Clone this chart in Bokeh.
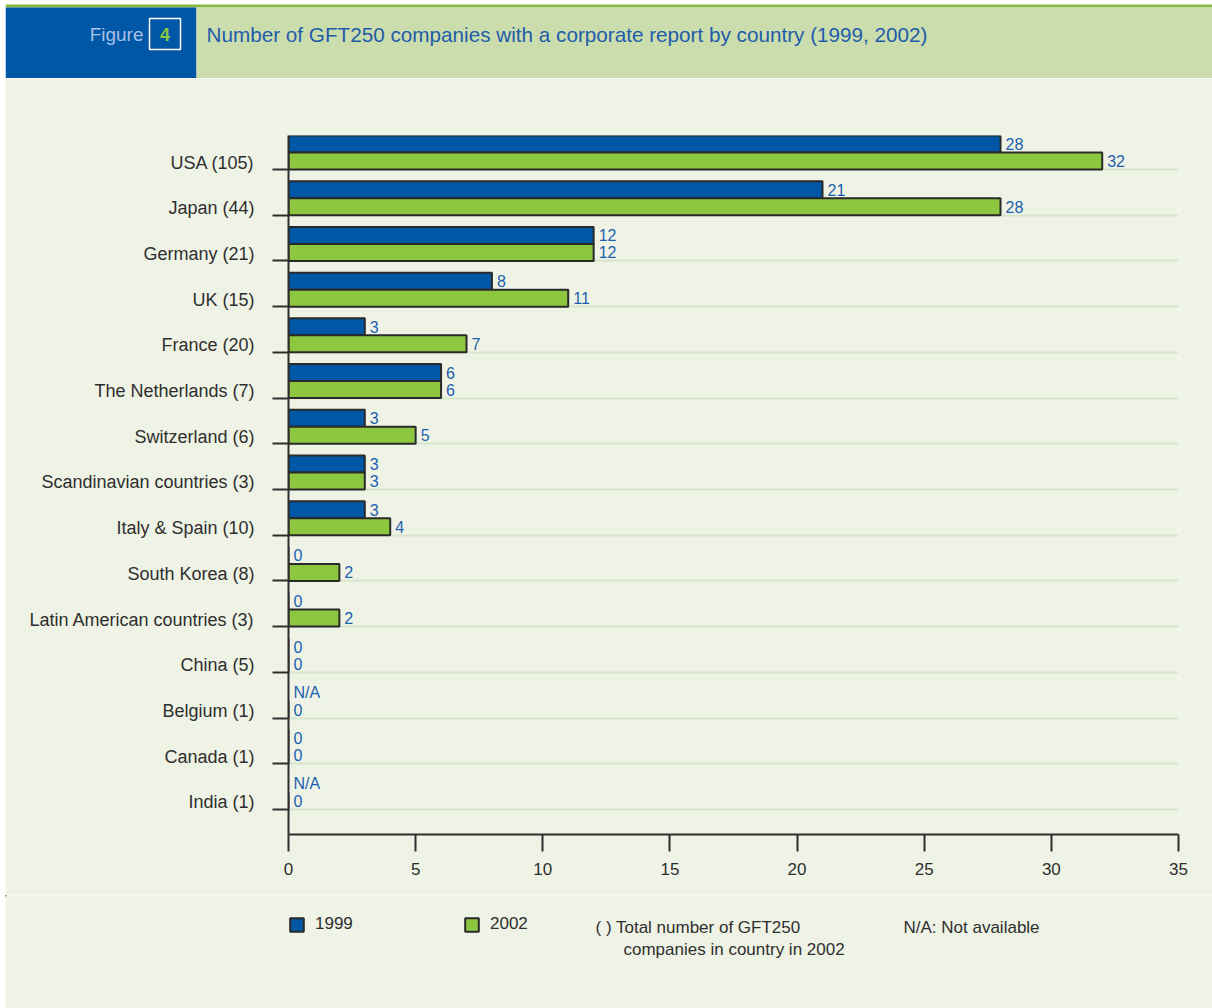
import numpy as np
from bokeh.plotting import figure
from bokeh.models import Range1d, FixedTicker, Legend, LegendItem, ColumnDataSource
from bokeh.layouts import column
from bokeh.embed import file_html
from bokeh.resources import INLINE
from bokeh.core.properties import value

# ---------------- data ----------------
countries = ["USA (105)", "Japan (44)", "Germany (21)", "UK (15)", "France (20)",
             "The Netherlands (7)", "Switzerland (6)", "Scandinavian countries (3)",
             "Italy & Spain (10)", "South Korea (8)", "Latin American countries (3)",
             "China (5)", "Belgium (1)", "Canada (1)", "India (1)"]
y1999 = [28, 21, 12, 8, 3, 6, 3, 3, 3, 0, 0, 0, None, 0, None]
y2002 = [32, 28, 12, 11, 7, 6, 5, 3, 4, 2, 2, 0, 0, 0, 0]
x_ticks = [0, 5, 10, 15, 20, 25, 30, 35]
series_names = ["1999", "2002"]
note_total = ["( ) Total number of GFT250", "companies in country in 2002"]
note_na = "N/A: Not available"
title_text = "Number of GFT250 companies with a corporate report by country (1999, 2002)"
fig_word = "Figure"
fig_num = "4"

# ---------------- style ----------------
FONT = "Liberation Sans"
BG = "#EEF3E6"
BAND = "#CBDDAD"
BLUE = "#0057A6"
GREEN = "#8DC63F"
DARK = "#2E2E2E"
OUTLINE = "#2A2A2A"
VALBLUE = "#1C5FAE"
GRID = "#D6E6CB"

SLOT_PX = 45.71
OFF = 7 / SLOT_PX
BAR = 17 / SLOT_PX

n = len(countries)
label_y = [i + 1 for i in range(n)]            # label centres (integers)
bottoms = [i + 1 + OFF for i in range(n)]      # category boundary: tick + gridline
c99 = [b - 1.5 * BAR for b in bottoms]
c02 = [b - 0.5 * BAR for b in bottoms]
y_top = 1 - 27 / SLOT_PX
y_bot = 1 + 672 / SLOT_PX

v99 = [np.nan if v is None else v for v in y1999]
v02 = [np.nan if v is None else v for v in y2002]
src99 = ColumnDataSource(dict(y=c99, v=v99))
src02 = ColumnDataSource(dict(y=c02, v=v02))

lab_x = [0 if v is None else v for v in y1999] + [0 if v is None else v for v in y2002]
lab_y = c99 + c02
lab_t = (["N/A" if v is None else str(v) for v in y1999] +
         ["N/A" if v is None else str(v) for v in y2002])
lab_src = ColumnDataSource(dict(x=lab_x, y=lab_y, t=lab_t))

W = 1207


def deco_fig(height, bg):
    f = figure(width=W, height=height, x_range=Range1d(0, W), y_range=Range1d(height, 0),
               output_backend="svg", toolbar_location=None, min_border=0,
               x_axis_location=None, y_axis_location=None, title=None,
               background_fill_color=bg, border_fill_color=bg,
               outline_line_color=None, margin=(0, 0, 0, 5), frame_align=False)
    f.xgrid.visible = False
    f.ygrid.visible = False
    return f


# ---------------- header ----------------
HH = 78
h = deco_fig(HH, "white")
h.quad(left=[0], right=[W], top=[4], bottom=[7], fill_color="#86B83E", line_color=None)
h.quad(left=[0], right=[191], top=[7], bottom=[HH], fill_color=BLUE, line_color=None)
h.quad(left=[191], right=[W], top=[7], bottom=[HH], fill_color=BAND, line_color=None)
h.quad(left=[144], right=[175], top=[18], bottom=[49], fill_color=None,
       line_color="white", line_width=1.5)
h.text(x=[138], y=[34], text=[fig_word], text_align="right", text_baseline="middle",
       text_font=value(FONT), text_font_size="19px", text_color="#A8C0E6")
h.text(x=[159.5], y=[34], text=[fig_num], text_align="center", text_baseline="middle",
       text_font=value(FONT), text_font_size="18px", text_font_style="bold",
       text_color=GREEN)
h.text(x=[201], y=[34], text=[title_text], text_align="left", text_baseline="middle",
       text_font=value(FONT), text_font_size="20.7px", text_color="#1F5CAA")

# ---------------- main chart ----------------
MH = 895 - 78
p = figure(width=W, height=MH, x_range=Range1d(0, 35), y_range=Range1d(y_bot, y_top),
           output_backend="svg", toolbar_location=None, title=None,
           min_border_left=283, min_border_right=34, min_border_top=57,
           min_border_bottom=61, background_fill_color=BG, border_fill_color=BG,
           outline_line_color=None, margin=(0, 0, 0, 5), frame_align=False)

p.xgrid.visible = False
p.ygrid.ticker = FixedTicker(ticks=bottoms)
p.ygrid.grid_line_color = GRID
p.ygrid.grid_line_width = 2

xa = p.xaxis[0]
xa.ticker = FixedTicker(ticks=x_ticks)
xa.major_tick_out = 17
xa.major_tick_in = 0
xa.minor_tick_line_color = None
xa.axis_line_width = 2
xa.axis_line_color = DARK
xa.major_tick_line_width = 2
xa.major_tick_line_color = DARK
xa.major_label_standoff = 11
xa.major_label_text_font = FONT
xa.major_label_text_font_size = "17px"
xa.major_label_text_color = DARK

ya = p.yaxis[0]
ya.ticker = FixedTicker(ticks=label_y, minor_ticks=bottoms)
ya.major_label_overrides = {i + 1: c for i, c in enumerate(countries)}
ya.major_tick_line_color = None
ya.major_tick_out = 0
ya.major_tick_in = 0
ya.minor_tick_out = 16
ya.minor_tick_in = 0
ya.minor_tick_line_width = 2
ya.minor_tick_line_color = DARK
ya.axis_line_width = 2
ya.axis_line_color = DARK
ya.major_label_standoff = 18
ya.major_label_text_font = FONT
ya.major_label_text_font_size = "18px"
ya.major_label_text_color = DARK

p.hbar(y="y", right="v", left=0, height=BAR, source=src99,
       fill_color=BLUE, line_color=OUTLINE, line_width=2)
p.hbar(y="y", right="v", left=0, height=BAR, source=src02,
       fill_color=GREEN, line_color=OUTLINE, line_width=2)

p.text(x="x", y="y", text="t", source=lab_src, x_offset=5, text_align="left",
       text_baseline="middle", text_font=value(FONT), text_font_size="16px",
       text_color=VALBLUE)

# ---------------- footer: legend + notes ----------------
FH = 1008 - 895
f = deco_fig(FH, BG)
# legend swatch renderers (their single point lies far outside the footer frame)
sw99 = f.hbar(y=[-5000], right=[-5000], left=-5001, height=1, fill_color=BLUE,
              line_color=OUTLINE, line_width=2)
sw02 = f.hbar(y=[-5000], right=[-5000], left=-5001, height=1, fill_color=GREEN,
              line_color=OUTLINE, line_width=2)
legend = Legend(items=[LegendItem(label=series_names[0], renderers=[sw99]),
                       LegendItem(label=series_names[1], renderers=[sw02])],
                orientation="horizontal", location=(283, 1008 - 934),
                glyph_width=17, glyph_height=17, label_height=17, label_standoff=10,
                label_width=148, spacing=0, padding=0, margin=0,
                background_fill_alpha=0, border_line_color=None,
                label_text_font=FONT, label_text_font_size="17px",
                label_text_color=DARK)
f.add_layout(legend, "center")
f.text(x=[590, 618, 898], y=[32, 54, 32], text=[note_total[0], note_total[1], note_na],
       text_align="left", text_baseline="middle", text_font=value(FONT),
       text_font_size="17px", text_color=DARK)

layout = column(h, p, f, spacing=0)
open("out.html", "w").write(file_html(layout, INLINE))
